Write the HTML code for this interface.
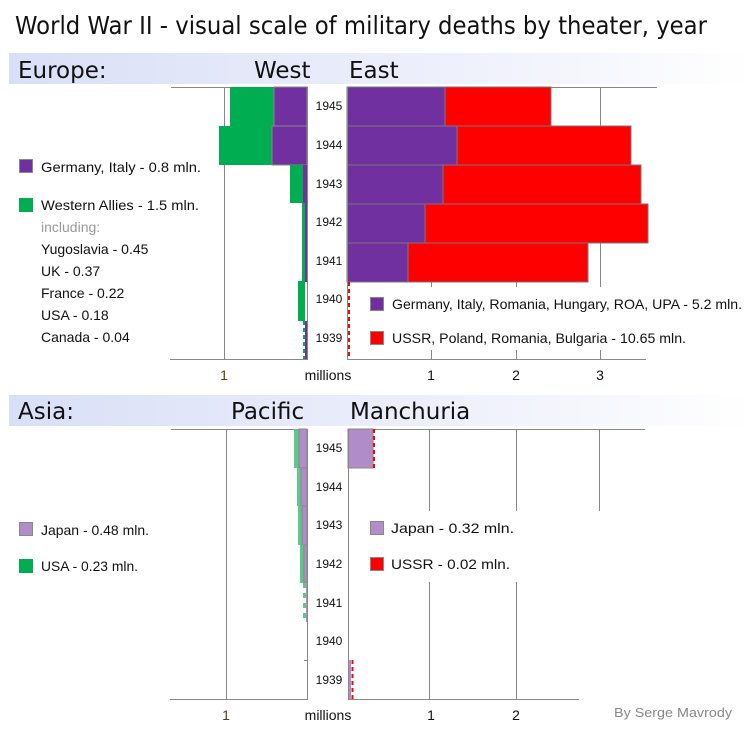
<!DOCTYPE html>
<html><head><meta charset="utf-8"><style>
html,body{margin:0;padding:0;background:#fff;}
svg{display:block;}
text{font-family:"Liberation Sans",sans-serif;}
</style></head><body>
<svg width="750" height="733" viewBox="0 0 750 733" xmlns="http://www.w3.org/2000/svg">
<defs>
<linearGradient id="band" x1="0" x2="1" y1="0" y2="0">
<stop offset="0" stop-color="#d9dff7"/><stop offset="0.6" stop-color="#eef0fb"/><stop offset="1" stop-color="#ffffff"/>
</linearGradient>
</defs>
<text x="15" y="34" font-size="25" textLength="692" lengthAdjust="spacingAndGlyphs" fill="#111" style="font-family:'DejaVu Sans',sans-serif">World War II - visual scale of military deaths by theater, year</text>

<rect x="9" y="53" width="741" height="31" fill="url(#band)"/>
<text x="18" y="78" font-size="23" fill="#111" style="font-family:'DejaVu Sans',sans-serif">Europe:</text>
<text x="254" y="78" font-size="23" fill="#111" style="font-family:'DejaVu Sans',sans-serif">West</text>
<text x="349" y="78" font-size="23" fill="#111" style="font-family:'DejaVu Sans',sans-serif">East</text>

<line x1="171" y1="87.5" x2="307" y2="87.5" stroke="#888"/>
<line x1="224.5" y1="87" x2="224.5" y2="359" stroke="#888"/>
<line x1="170" y1="359.5" x2="307" y2="359.5" stroke="#888"/>
<g stroke="#888" stroke-width="1">
<rect x="230" y="87" width="44" height="39" fill="#00ad50" stroke="none"/>
<rect x="274" y="87" width="33" height="39" fill="#7030a0"/>
<rect x="219" y="126" width="53" height="39" fill="#00ad50" stroke="none"/>
<rect x="272" y="126" width="35" height="39" fill="#7030a0"/>
</g>
<rect x="290" y="165" width="13" height="38" fill="#00ad50"/>
<rect x="303" y="165" width="4" height="38" fill="#7030a0"/>
<rect x="302" y="203" width="3" height="79" fill="#00ad50"/>
<rect x="305" y="203" width="2" height="79" fill="#7030a0"/>
<rect x="298" y="281" width="7" height="40" fill="#00ad50"/>
<line x1="304" y1="321" x2="304" y2="359" stroke="#00ad50" stroke-width="2" stroke-dasharray="4,3"/>
<rect x="305" y="321" width="2" height="38" fill="#7030a0"/>
<line x1="307.5" y1="87" x2="307.5" y2="360" stroke="#888"/>

<g font-size="12" fill="#111" text-anchor="middle">
<text x="329" y="110">1945</text><text x="329" y="149">1944</text><text x="329" y="188">1943</text>
<text x="329" y="226">1942</text><text x="329" y="265">1941</text><text x="329" y="303">1940</text><text x="329" y="342">1939</text>
</g>

<line x1="347" y1="87.5" x2="657" y2="87.5" stroke="#888"/>
<line x1="431.5" y1="87" x2="431.5" y2="359" stroke="#888"/>
<line x1="516.5" y1="87" x2="516.5" y2="359" stroke="#888"/>
<line x1="600.5" y1="87" x2="600.5" y2="359" stroke="#888"/>
<line x1="347" y1="359.5" x2="646" y2="359.5" stroke="#888"/>
<g stroke="#777" stroke-width="1">
<rect x="347" y="87" width="98" height="39" fill="#7030a0"/>
<rect x="445" y="87" width="106" height="39" fill="#ff0000"/>
<rect x="347" y="126" width="110" height="39" fill="#7030a0"/>
<rect x="457" y="126" width="174" height="39" fill="#ff0000"/>
<rect x="347" y="165" width="96" height="39" fill="#7030a0"/>
<rect x="443" y="165" width="198" height="39" fill="#ff0000"/>
<rect x="347" y="204" width="78" height="39" fill="#7030a0"/>
<rect x="425" y="204" width="223" height="39" fill="#ff0000"/>
<rect x="347" y="243" width="61" height="39" fill="#7030a0"/>
<rect x="408" y="243" width="180" height="39" fill="#ff0000"/>
</g>
<line x1="349" y1="282" x2="349" y2="359" stroke="#ff0000" stroke-width="2" stroke-dasharray="4,3"/>
<line x1="347.5" y1="87" x2="347.5" y2="360" stroke="#888"/>
<rect x="360" y="287" width="290" height="63" fill="#fff"/>
<rect x="370.5" y="297.5" width="13" height="13" fill="#7030a0" stroke="#888"/>
<rect x="370.5" y="331.5" width="13" height="13" fill="#ff0000" stroke="#888"/>
<text x="392" y="309" font-size="14" fill="#111" textLength="350" lengthAdjust="spacingAndGlyphs">Germany, Italy, Romania, Hungary, ROA, UPA - 5.2 mln.</text>
<text x="392" y="343" font-size="14" fill="#111" textLength="294" lengthAdjust="spacingAndGlyphs">USSR,  Poland, Romania, Bulgaria - 10.65 mln.</text>

<g font-size="14" fill="#111" text-anchor="middle">
<text x="224" y="380" fill="#5a3a10">1</text><text x="328" y="380">millions</text>
<text x="431" y="380">1</text><text x="516" y="380">2</text><text x="600" y="380">3</text>
</g>

<rect x="19.5" y="159.5" width="13" height="13" fill="#7030a0" stroke="#888"/>
<rect x="19.5" y="198.5" width="13" height="13" fill="#00ad50" stroke="#00ad50"/>
<g font-size="14" fill="#111">
<text x="41" y="172" textLength="160" lengthAdjust="spacingAndGlyphs">Germany, Italy - 0.8 mln.</text>
<text x="41" y="210" textLength="158" lengthAdjust="spacingAndGlyphs">Western Allies - 1.5 mln.</text>
<text x="41" y="232" fill="#999">including:</text>
<text x="41" y="254">Yugoslavia - 0.45</text>
<text x="41" y="276">UK - 0.37</text>
<text x="41" y="298">France - 0.22</text>
<text x="41" y="320">USA - 0.18</text>
<text x="41" y="342">Canada - 0.04</text>
</g>

<rect x="9" y="395" width="741" height="31" fill="url(#band)"/>
<text x="18" y="419" font-size="23" fill="#111" style="font-family:'DejaVu Sans',sans-serif">Asia:</text>
<text x="231" y="419" font-size="23" fill="#111" style="font-family:'DejaVu Sans',sans-serif">Pacific</text>
<text x="350" y="419" font-size="23" fill="#111" style="font-family:'DejaVu Sans',sans-serif">Manchuria</text>

<line x1="171" y1="429.5" x2="307" y2="429.5" stroke="#888"/>
<line x1="226.5" y1="429" x2="226.5" y2="699" stroke="#888"/>
<line x1="170" y1="699.5" x2="307" y2="699.5" stroke="#888"/>
<rect x="294" y="429" width="5" height="39" fill="#5cc98a"/>
<rect x="299" y="429" width="8" height="39" fill="#b08cc8" stroke="#888"/>
<rect x="297" y="468" width="4" height="38" fill="#5cc98a"/>
<rect x="301" y="468" width="6" height="38" fill="#b08cc8" stroke="#888"/>
<rect x="298" y="506" width="4" height="39" fill="#5cc98a"/>
<rect x="302" y="506" width="5" height="39" fill="#b08cc8" stroke="#888"/>
<rect x="300" y="545" width="4" height="38" fill="#5cc98a"/>
<rect x="304" y="545" width="3" height="38" fill="#b08cc8" stroke="#888"/>
<line x1="304.5" y1="583" x2="304.5" y2="622" stroke="#5cc98a" stroke-width="3" stroke-dasharray="5,5"/>
<rect x="306" y="583" width="1" height="39" fill="#b08cc8"/>
<line x1="304" y1="660.5" x2="307" y2="660.5" stroke="#888"/>
<line x1="307.5" y1="429" x2="307.5" y2="700" stroke="#888"/>

<g font-size="12" fill="#111" text-anchor="middle">
<text x="329" y="452">1945</text><text x="329" y="491">1944</text><text x="329" y="529">1943</text>
<text x="329" y="568">1942</text><text x="329" y="607">1941</text><text x="329" y="645">1940</text><text x="329" y="684">1939</text>
</g>

<line x1="348" y1="429.5" x2="645" y2="429.5" stroke="#888"/>
<line x1="429.5" y1="429" x2="429.5" y2="699" stroke="#888"/>
<line x1="516.5" y1="429" x2="516.5" y2="699" stroke="#888"/>
<line x1="599.5" y1="429" x2="599.5" y2="511" stroke="#888"/>
<line x1="348" y1="699.5" x2="579" y2="699.5" stroke="#888"/>
<rect x="348" y="429" width="25" height="39" fill="#b08cc8" stroke="#888"/>
<line x1="374" y1="429" x2="374" y2="468" stroke="#ff0000" stroke-width="2" stroke-dasharray="4,3"/>
<rect x="348" y="660" width="3" height="39" fill="#b08cc8"/>
<line x1="352.5" y1="660" x2="352.5" y2="699" stroke="#ff0000" stroke-width="2" stroke-dasharray="4,3"/>
<line x1="348.5" y1="429" x2="348.5" y2="700" stroke="#888"/>
<rect x="360" y="511" width="290" height="71" fill="#fff"/>
<rect x="370.5" y="521.5" width="13" height="13" fill="#b08cc8" stroke="#888"/>
<rect x="370.5" y="557.5" width="13" height="13" fill="#ff0000" stroke="#888"/>
<text x="391" y="533" font-size="14" fill="#111" textLength="123" lengthAdjust="spacingAndGlyphs">Japan - 0.32 mln.</text>
<text x="391" y="569" font-size="14" fill="#111" textLength="119" lengthAdjust="spacingAndGlyphs">USSR - 0.02 mln.</text>

<rect x="19.5" y="522.5" width="13" height="13" fill="#b08cc8" stroke="#888"/>
<rect x="19.5" y="559.5" width="13" height="13" fill="#00ad50" stroke="#00ad50"/>
<text x="41" y="535" font-size="14" fill="#111" textLength="108" lengthAdjust="spacingAndGlyphs">Japan - 0.48 mln.</text>
<text x="41" y="571" font-size="14" fill="#111" textLength="97" lengthAdjust="spacingAndGlyphs">USA - 0.23 mln.</text>

<g font-size="14" fill="#111" text-anchor="middle">
<text x="226" y="720" fill="#5a3a10">1</text><text x="328" y="720">millions</text>
<text x="431" y="720">1</text><text x="516" y="720">2</text>
</g>
<text x="614" y="717" font-size="13" fill="#888" textLength="118" lengthAdjust="spacingAndGlyphs">By Serge Mavrody</text>
</svg>
</body></html>
